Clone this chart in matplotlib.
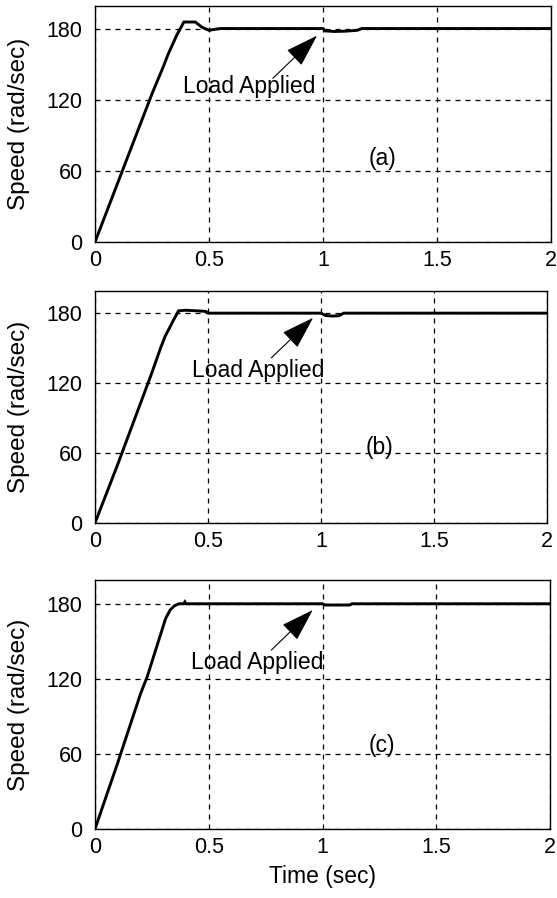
import matplotlib
matplotlib.use("Agg")
import matplotlib.pyplot as plt
import numpy as np

plt.rcParams['font.family'] = ['Liberation Sans', 'DejaVu Sans']

# ---------------- data ----------------
t_a = [0, 0.10, 0.20, 0.25, 0.30, 0.32, 0.36, 0.39, 0.44, 0.47, 0.50, 0.53, 0.55,
       1.00, 1.01, 1.05, 1.10, 1.15, 1.17, 2.0]
v_a = [0, 50, 100, 125, 148, 158, 175, 185.5, 185.5, 181, 178.5, 179.5, 180,
       180, 178, 177.5, 177.8, 178.5, 180, 180]

t_b = [0, 0.10, 0.20, 0.25, 0.29, 0.31, 0.35, 0.37, 0.40, 0.45, 0.49, 0.50,
       1.00, 1.02, 1.05, 1.08, 1.10, 2.0]
v_b = [0, 50, 102, 128, 150, 160, 175, 182, 182.5, 182, 181.5, 180,
       180, 178, 177.5, 177.8, 180, 180]

t_c = [0, 0.10, 0.20, 0.23, 0.27, 0.31, 0.33, 0.35, 0.37, 0.39, 0.395, 0.40,
       1.00, 1.01, 1.12, 1.13, 2.0]
v_c = [0, 53, 108, 122, 145, 168, 175, 178.5, 180, 180, 181.5, 180,
       180, 179, 179, 180, 180]

panels = [(t_a, v_a, "(a)"), (t_b, v_b, "(b)"), (t_c, v_c, "(c)")]

xticks = [0, 0.5, 1, 1.5, 2]
xticklabels = ["0", "0.5", "1", "1.5", "2"]
yticks = [0, 60, 120, 180]
yticklabels = ["0", "60", "120", "180"]

annot_text = "Load Applied"
text_pos = [(0.675, 131), (0.72, 131), (0.712, 133)]
arrow_tip = [(0.974, 174), (0.965, 176), (0.957, 175)]
arrow_tail = [(0.78, 138), (0.78, 141.6), (0.775, 143)]
label_pos = [(1.26, 70), (1.26, 65), (1.26, 67)]

# --------------- layout (pixels) ---------------
W, H = 557, 898
boxes = [(95, 6, 551, 242), (95, 291, 547, 523), (95, 580, 550, 829)]

fig = plt.figure(figsize=(W / 100, H / 100), dpi=100)
fs_tick = 15.5
fs_text = 16.5
fs_ylab = 17.5

for i, ((t, v, lab), (l, tp, r, b)) in enumerate(zip(panels, boxes)):
    ax = fig.add_axes([l / W, 1 - b / H, (r - l) / W, (b - tp) / H])
    ax.plot(t, v, color='black', lw=2.1, solid_joinstyle='miter')
    ax.set_xlim(0, 2)
    ax.set_ylim(0, 199)
    ax.set_xticks(xticks)
    ax.set_xticklabels(xticklabels, fontsize=fs_tick)
    ax.set_yticks(yticks)
    ax.set_yticklabels(yticklabels, fontsize=fs_tick)
    ax.tick_params(axis='y', direction='in', length=0, pad=9)
    ax.tick_params(axis='x', direction='in', length=0, pad=6)
    ax.grid(True, color='black', linestyle=(0, (4, 4)), linewidth=0.9)
    for s in ax.spines.values():
        s.set_linewidth(1.0)
        s.set_color('black')
    fig.text(19 / W, 1 - (tp + b) / 2 / H, "Speed (rad/sec)", fontsize=fs_ylab,
             rotation=90, ha='center', va='center')
    ax.annotate("", xy=arrow_tip[i], xytext=arrow_tail[i],
                arrowprops=dict(arrowstyle='-|>,head_length=1.4,head_width=0.45',
                                mutation_scale=15,
                                color='black', lw=0.8, shrinkA=0, shrinkB=0))
    ax.text(text_pos[i][0], text_pos[i][1], annot_text, fontsize=fs_text,
            ha='center', va='center')
    ax.text(label_pos[i][0], label_pos[i][1], lab, fontsize=fs_text,
            ha='center', va='center')
    if i == 2:
        ax.set_xlabel("Time (sec)", fontsize=fs_text)
        ax.xaxis.set_label_coords(0.5, -(865 - b) / (b - tp))

fig.savefig("out.png", dpi=100)
